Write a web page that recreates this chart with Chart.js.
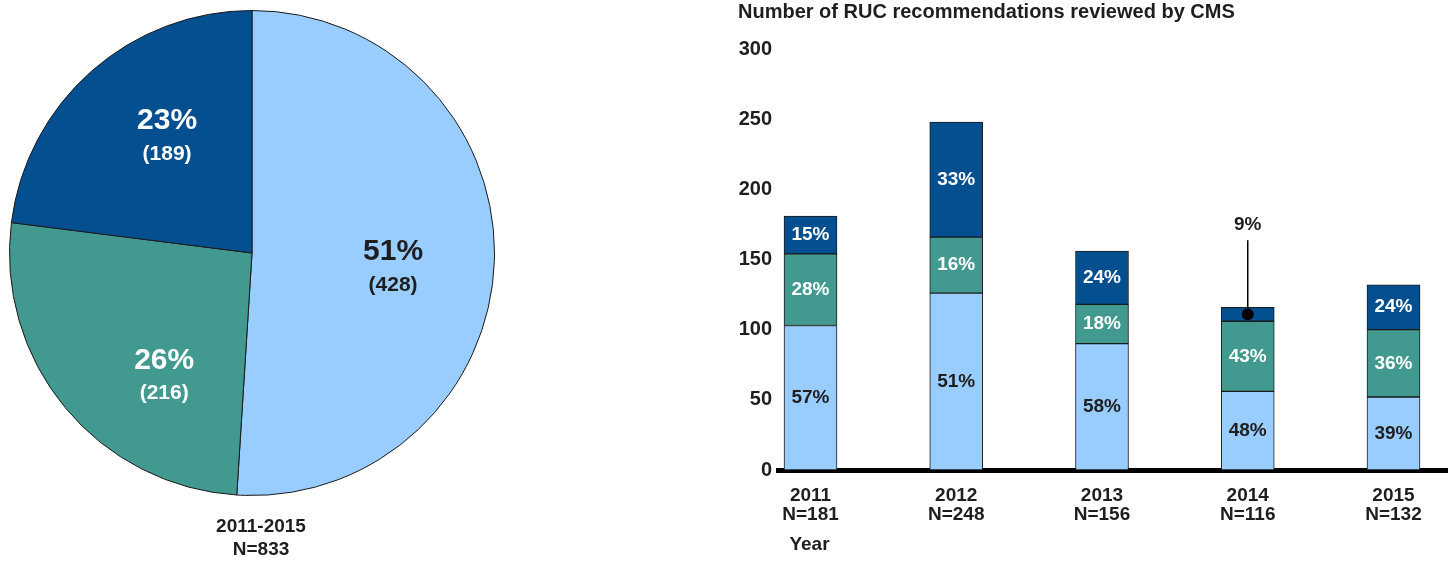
<!DOCTYPE html>
<html>
<head>
<meta charset="utf-8">
<script src="https://cdn.jsdelivr.net/npm/chart.js@4.4.0/dist/chart.umd.min.js"></script>
<style>
  html, body { margin: 0; padding: 0; background: #fff; width: 1448px; height: 564px; overflow: hidden; }
  #pieBox { position: absolute; left: 0; top: 0; width: 520px; height: 564px; }
  #barBox { position: absolute; left: 700px; top: 0; width: 748px; height: 564px; }
</style>
</head>
<body>
<div id="pieBox"><canvas id="pieChart"></canvas></div>
<div id="barBox"><canvas id="barChart"></canvas></div>
<script>
// pie: all years together (slices follow the printed shares)
const pieShares = [51, 26, 23];
const pieCounts = [428, 216, 189];
const pieCaption = ['2011-2015', 'N=833'];

// stacked bars by year
const years = ['2011', '2012', '2013', '2014', '2015'];
const yearN = [181, 248, 156, 116, 132];
const lightVals = [103, 126, 90, 56, 52];
const tealVals = [51, 40, 28, 50, 48];
const darkVals = [27, 82, 38, 10, 32];
const lightPct = ['57%', '51%', '58%', '48%', '39%'];
const tealPct = ['28%', '16%', '18%', '43%', '36%'];
const darkPct = ['15%', '33%', '24%', '9%', '24%'];
const yTicks = [0, 50, 100, 150, 200, 250, 300];

const LIGHT = '#99ccff';
const TEAL = '#42998f';
const DARK = '#044f8f';
const INK = '#1e1e1e';
const FONT = '"Liberation Sans", Arial, sans-serif';

Chart.defaults.font.family = FONT;

// labels inside the pie slices
const pieText = {
  id: 'pieText',
  afterDatasetsDraw(chart, args, opts) {
    const { ctx } = chart;
    const arcs = chart.getDatasetMeta(0).data;
    ctx.save();
    ctx.textAlign = 'center';
    ctx.textBaseline = 'middle';
    arcs.forEach((arc, i) => {
      const p = arc.getProps(['x', 'y', 'startAngle', 'endAngle', 'outerRadius'], true);
      const mid = (p.startAngle + p.endAngle) / 2 + opts.nudge[i] * Math.PI / 180;
      const r = p.outerRadius * opts.radius[i];
      const cx = p.x + Math.cos(mid) * r;
      const cy = p.y + Math.sin(mid) * r;
      ctx.fillStyle = opts.colors[i];
      ctx.font = 'bold 30px ' + FONT;
      ctx.fillText(pieShares[i] + '%', cx, cy - 16);
      ctx.font = 'bold 21px ' + FONT;
      ctx.fillText('(' + pieCounts[i] + ')', cx, cy + 17);
    });
    ctx.fillStyle = INK;
    ctx.font = 'bold 19px ' + FONT;
    ctx.fillText(pieCaption[0], 261, 527);
    ctx.fillText(pieCaption[1], 261, 550);
    ctx.restore();
  }
};

new Chart(document.getElementById('pieChart'), {
  type: 'pie',
  data: {
    labels: ['Group A', 'Group B', 'Group C'],
    datasets: [{
      data: pieShares,
      backgroundColor: [LIGHT, TEAL, DARK],
      borderColor: '#1a1a1a',
      borderWidth: 1,
    }],
  },
  options: {
    responsive: true,
    maintainAspectRatio: false,
    animation: false,
    layout: { padding: { left: 9, top: 10, right: 25, bottom: 68 } },
    plugins: {
      legend: { display: false },
      tooltip: { enabled: false },
      pieText: {
        nudge: [4.2, -15, 5.2],
        radius: [0.585, 0.625, 0.593],
        colors: [INK, '#ffffff', '#ffffff'],
      },
    },
  },
  plugins: [pieText],
});

// percent labels in bar segments, title, axis name and the small-segment callout
const barText = {
  id: 'barText',
  afterDatasetsDraw(chart) {
    const { ctx } = chart;
    ctx.save();
    ctx.textAlign = 'center';
    ctx.textBaseline = 'middle';
    ctx.font = 'bold 19px ' + FONT;
    chart.data.datasets.forEach((ds, d) => {
      chart.getDatasetMeta(d).data.forEach((bar, i) => {
        const cy = (bar.y + bar.base) / 2;
        if (Math.abs(bar.base - bar.y) < 22) {
          ctx.strokeStyle = '#000';
          ctx.lineWidth = 1.5;
          ctx.beginPath();
          ctx.moveTo(bar.x, cy);
          ctx.lineTo(bar.x, cy - 74);
          ctx.stroke();
          ctx.fillStyle = '#000';
          ctx.beginPath();
          ctx.arc(bar.x, cy, 6, 0, Math.PI * 2);
          ctx.fill();
          ctx.fillStyle = INK;
          ctx.fillText(ds.pct[i], bar.x, cy - 89);
        } else {
          ctx.fillStyle = ds.textColor;
          ctx.fillText(ds.pct[i], bar.x, cy);
        }
      });
    });
    ctx.fillStyle = INK;
    ctx.textAlign = 'left';
    ctx.font = 'bold 20px ' + FONT;
    ctx.fillText('Number of RUC recommendations reviewed by CMS', 38, 12);
    ctx.textAlign = 'center';
    ctx.font = 'bold 19px ' + FONT;
    ctx.fillText('Year', chart.scales.x.getPixelForValue(0) - 1, 545);
    ctx.restore();
  }
};

const toPoints = vals => vals.map((v, i) => ({ x: i, y: v }));

new Chart(document.getElementById('barChart'), {
  type: 'bar',
  data: {
    datasets: [
      { data: toPoints(lightVals), backgroundColor: LIGHT, pct: lightPct, textColor: INK },
      { data: toPoints(tealVals), backgroundColor: TEAL, pct: tealPct, textColor: '#ffffff' },
      { data: toPoints(darkVals), backgroundColor: DARK, pct: darkPct, textColor: '#ffffff' },
    ],
  },
  options: {
    responsive: true,
    maintainAspectRatio: false,
    animation: false,
    layout: { padding: { left: 38, top: 49, right: 0, bottom: 0 } },
    datasets: {
      bar: { barThickness: 53, borderWidth: 1, borderColor: '#1a1a1a', borderSkipped: false },
    },
    plugins: { legend: { display: false }, tooltip: { enabled: false } },
    scales: {
      x: {
        type: 'linear',
        stacked: true,
        offset: false,
        min: -0.223,
        max: 4.374,
        grid: { display: false, drawTicks: false, offset: false },
        border: { display: true, width: 5, color: '#000' },
        afterBuildTicks: s => { s.ticks = years.map((_, i) => ({ value: i })); },
        afterFit: s => { s.height = 94; },
        ticks: {
          autoSkip: false,
          maxRotation: 0,
          padding: 16,
          color: INK,
          font: { size: 19, weight: 'bold', lineHeight: 1 },
          callback: v => [years[v], 'N=' + yearN[v]],
        },
      },
      y: {
        stacked: true,
        min: 0,
        max: 300,
        grid: { display: false, drawTicks: false },
        border: { display: false },
        afterBuildTicks: s => { s.ticks = yTicks.map(v => ({ value: v })); },
        afterFit: s => { s.width = 40; },
        ticks: { padding: 6, color: INK, font: { size: 20, weight: 'bold' } },
      },
    },
  },
  plugins: [barText],
});
</script>
</body>
</html>
